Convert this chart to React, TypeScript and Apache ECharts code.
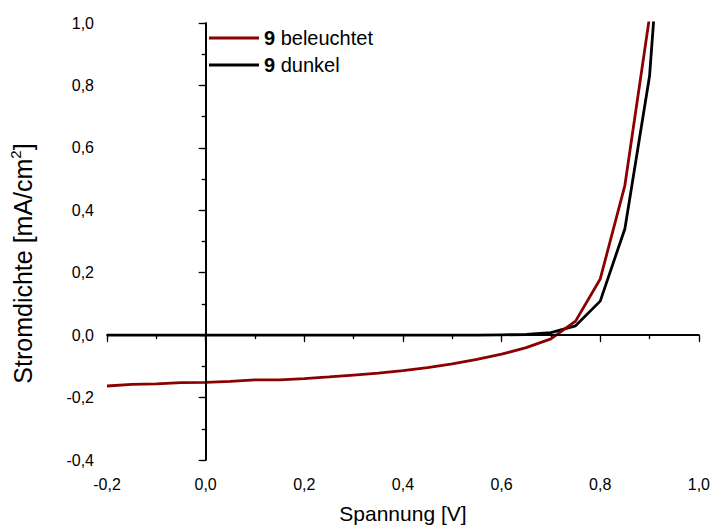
import React, { useEffect, useRef } from "react";
import * as echarts from "echarts";

const voltages = [-0.2, -0.15, -0.1, -0.05, 0.0, 0.05, 0.1, 0.15, 0.2, 0.25, 0.3, 0.35, 0.4, 0.45, 0.5, 0.55, 0.6, 0.65, 0.7, 0.75, 0.8, 0.85, 0.9, 0.95];
const beleuchtet = [-0.163, -0.158, -0.156, -0.152, -0.151, -0.148, -0.143, -0.143, -0.139, -0.134, -0.128, -0.122, -0.114, -0.104, -0.092, -0.078, -0.061, -0.04, -0.012, 0.045, 0.18, 0.48, 1.02, 2.0];
const dunkel = [0, 0, 0, 0, 0, 0, 0, 0, 0, 0, 0, 0, 0, 0, 0, 0, 0.001, 0.002, 0.008, 0.03, 0.109, 0.341, 0.83, 1.9];
const seriesNames = ["9 beleuchtet", "9 dunkel"];
const xTitle = "Spannung [V]";
const yTitleMain = "Stromdichte [mA/cm";
const yTitleSup = "2";
const yTitleEnd = "]";

const fmt = (v: number) => v.toFixed(1).replace(".", ",");
const font = "'Liberation Sans', Arial, sans-serif";

export default function App() {
  const ref = useRef<HTMLDivElement>(null);
  useEffect(() => {
    if (!ref.current) return;
    const chart = echarts.init(ref.current, null, { renderer: "svg" });
    const axisCommon = {
      axisLine: { show: true, lineStyle: { color: "#000", width: 1.5 } },
      splitLine: { show: false },
    };
    const outTick = { show: true, inside: false, length: 7, lineStyle: { color: "#000", width: 1.2 } };
    const outMinor = { show: true, splitNumber: 2, length: 4, lineStyle: { color: "#000", width: 1.2 } };
    const inTick = { show: true, inside: true, length: 5, lineStyle: { color: "#000", width: 1.2 } };
    chart.setOption({
      animation: false,
      backgroundColor: "#fff",
      textStyle: { fontFamily: font },
      grid: { left: 107, top: 23, right: 14, bottom: 67, containLabel: false },
      legend: {
        orient: "vertical",
        left: 204,
        top: 22,
        itemWidth: 50,
        itemHeight: 3,
        itemGap: 5,
        icon: "rect",
        data: seriesNames,
        formatter: (name: string) => "{b|" + name.split(" ")[0] + "} " + name.split(" ").slice(1).join(" "),
        textStyle: {
          fontFamily: font,
          fontSize: 20,
          color: "#000",
          lineHeight: 22,
          rich: {
            b: { fontFamily: font, fontSize: 20, fontWeight: "bold", color: "#000", lineHeight: 22 },
          },
        },
      },
      xAxis: [
        {
          ...axisCommon,
          type: "value",
          min: -0.2,
          max: 1.0,
          interval: 0.2,
          position: "bottom",
          name: xTitle,
          nameLocation: "middle",
          nameGap: 43,
          nameTextStyle: { fontFamily: font, fontSize: 21, color: "#000" },
          axisTick: outTick,
          minorTick: outMinor,
          axisLabel: { formatter: fmt, fontFamily: font, fontSize: 16, color: "#000", margin: 16 },
        },
        {
          ...axisCommon,
          type: "value",
          min: -0.2,
          max: 1.0,
          interval: 0.2,
          position: "top",
          axisTick: inTick,
          minorTick: { ...outMinor, length: 3 },
          axisLabel: { show: false },
        },
      ],
      yAxis: [
        {
          ...axisCommon,
          type: "value",
          min: -0.4,
          max: 1.0,
          interval: 0.2,
          position: "left",
          name: "{m|" + yTitleMain + "}{s|" + yTitleSup + "}{m|" + yTitleEnd + "}",
          nameLocation: "middle",
          nameGap: 69,
          nameTextStyle: {
            fontFamily: font,
            fontSize: 25,
            color: "#000",
            padding: [0, 44, 0, 0],
            rich: {
              m: { fontFamily: font, fontSize: 25, color: "#000", lineHeight: 30 },
              s: { fontFamily: font, fontSize: 15, color: "#000", lineHeight: 30, verticalAlign: "top", padding: [0, 0, 12, 0] },
            },
          },
          axisTick: outTick,
          minorTick: outMinor,
          axisLabel: { formatter: fmt, fontFamily: font, fontSize: 16, color: "#000", margin: 13 },
        },
        {
          ...axisCommon,
          type: "value",
          min: -0.4,
          max: 1.0,
          interval: 0.2,
          position: "right",
          axisTick: inTick,
          minorTick: { ...outMinor, length: 3 },
          axisLabel: { show: false },
        },
      ],
      series: [
        {
          name: seriesNames[1],
          type: "line",
          xAxisIndex: 0,
          yAxisIndex: 0,
          data: voltages.map((v, i) => [v, dunkel[i]]),
          showSymbol: false,
          symbol: "none",
          clip: true,
          color: "#000",
          lineStyle: { color: "#000", width: 2.8 },
          z: 3,
        },
        {
          name: seriesNames[0],
          type: "line",
          xAxisIndex: 0,
          yAxisIndex: 0,
          data: voltages.map((v, i) => [v, beleuchtet[i]]),
          showSymbol: false,
          symbol: "none",
          clip: true,
          color: "#8b0000",
          lineStyle: { color: "#8b0000", width: 2.8 },
          z: 4,
          markLine: {
            silent: true,
            symbol: "none",
            label: { show: false },
            lineStyle: { color: "#000", width: 1.6, type: "solid" },
            data: [{ xAxis: 0 }, { yAxis: 0 }],
          },
        },
      ],
    });
    return () => chart.dispose();
  }, []);
  return <div ref={ref} style={{ position: "absolute", left: 0, top: 0, width: 713, height: 529 }} />;
}
